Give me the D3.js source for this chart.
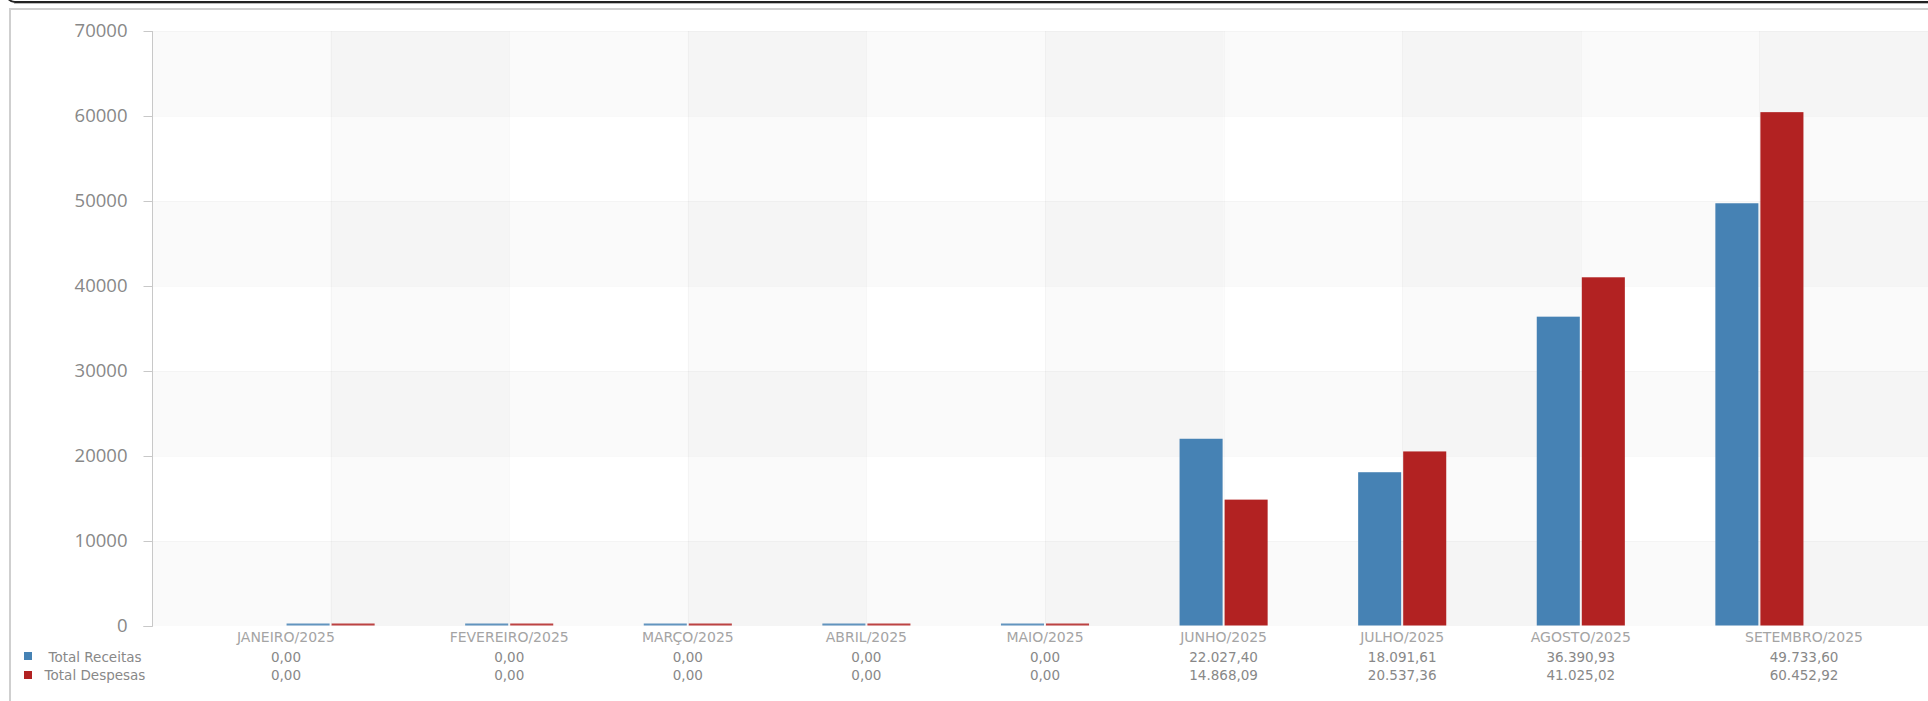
<!DOCTYPE html>
<html>
<head>
<meta charset="utf-8">
<script src="https://cdn.jsdelivr.net/npm/d3@7"></script>
<style>
  html, body { margin: 0; padding: 0; background: #fff; overflow: hidden; }
  svg { display: block; }
</style>
</head>
<body>
<svg id="chart" width="1928" height="701"></svg>
<script>
// ---- data ----
const categories = ["JANEIRO/2025","FEVEREIRO/2025","MARÇO/2025","ABRIL/2025","MAIO/2025","JUNHO/2025","JULHO/2025","AGOSTO/2025","SETEMBRO/2025"];
const receitas = [0, 0, 0, 0, 0, 22027.40, 18091.61, 36390.93, 49733.60];
const despesas = [0, 0, 0, 0, 0, 14868.09, 20537.36, 41025.02, 60452.92];
const seriesNames = ["Total Receitas", "Total Despesas"];
const seriesColors = ["#4682b4", "#b22222"];
const yTicks = [0, 10000, 20000, 30000, 40000, 50000, 60000, 70000];

// ---- layout ----
const svg = d3.select("#chart");
const plotLeft = 152, plotRight = 1938, plotTop = 31, plotBottom = 626;
const n = categories.length;

const x = d3.scaleLinear().domain([0, n + 1]).range([plotLeft, plotRight]);
const y = d3.scaleLinear().domain([0, 70000]).range([plotBottom, plotTop]);

const br = d3.formatLocale({decimal: ",", thousands: ".", grouping: [3], currency: ["R$", ""]});
const fmt = br.format(",.2f");

// outer frame pieces
svg.append("rect").attr("x", 6).attr("y", -60).attr("width", 2000).attr("height", 62)
  .attr("rx", 9).attr("fill", "none").attr("stroke", "#222").attr("stroke-width", 2);
svg.append("line").attr("x1", 14).attr("x2", 1928).attr("y1", 3.5).attr("y2", 3.5)
  .attr("stroke", "#bbb").attr("stroke-width", 1);
svg.append("rect").attr("x", 10).attr("y", 9).attr("width", 2000).attr("height", 800)
  .attr("fill", "#fff").attr("stroke", "#cfcfcf").attr("stroke-width", 2);

// background bands
const plot = svg.append("g");
const rowBands = d3.range(0, 7).filter(i => i % 2 === 0);
plot.selectAll("rect.row").data(rowBands).join("rect")
  .attr("x", plotLeft).attr("width", plotRight - plotLeft)
  .attr("y", d => y((d + 1) * 10000)).attr("height", d => y(d * 10000) - y((d + 1) * 10000))
  .attr("fill", "#000").attr("fill-opacity", 0.021);
const colBands = d3.range(0, n + 1).filter(i => i % 2 === 1);
plot.selectAll("rect.col").data(colBands).join("rect")
  .attr("x", d => x(d)).attr("width", d => x(d + 1) - x(d))
  .attr("y", plotTop).attr("height", plotBottom - plotTop)
  .attr("fill", "#000").attr("fill-opacity", 0.02);

// faint grid
plot.selectAll("line.hg").data(yTicks.slice(1)).join("line")
  .attr("x1", plotLeft).attr("x2", plotRight)
  .attr("y1", d => Math.round(y(d)) + 0.5).attr("y2", d => Math.round(y(d)) + 0.5)
  .attr("stroke", "#000").attr("stroke-opacity", 0.022);
plot.selectAll("line.vg").data(d3.range(1, n + 1)).join("line")
  .attr("x1", d => Math.round(x(d)) + 0.5).attr("x2", d => Math.round(x(d)) + 0.5)
  .attr("y1", plotTop).attr("y2", plotBottom)
  .attr("stroke", "#000").attr("stroke-opacity", 0.022);

// y axis
const yAxis = d3.axisLeft(y).tickValues(yTicks).tickSize(9).tickPadding(16).tickFormat(d3.format("d"));
const ax = svg.append("g").attr("transform", `translate(${plotLeft + 0.5},0)`).call(yAxis);
ax.select(".domain").attr("stroke", "#c8c8c8").attr("d", `M-9,${plotBottom + 0.5}H0V${plotTop}`);
ax.selectAll(".tick line").attr("stroke", "#c8c8c8");
ax.selectAll(".tick text").attr("fill", "#888").attr("font-family", "'Open Sans', sans-serif")
  .attr("font-size", 18.5);

// bars
const barW = x(0.241) - x(0);
const gap = 1;
const seriesData = [receitas, despesas];
seriesData.forEach((vals, s) => {
  svg.append("g").selectAll("rect").data(vals).join("rect")
    .attr("x", (d, i) => s === 0 ? x(i + 1) - gap - barW : x(i + 1) + gap)
    .attr("width", barW)
    .attr("y", d => d > 0 ? y(d) : plotBottom - 2.5)
    .attr("height", d => d > 0 ? plotBottom - y(d) - 0.5 : 2)
    .attr("fill", seriesColors[s])
    .attr("fill-opacity", d => d > 0 ? 1 : 0.85);
});

// data table (labels + values)
const cellCenter = i => {
  const l = i === 0 ? x(0) : x(i + 0.5);
  const r = i === n - 1 ? x(n + 1) : x(i + 1.5);
  return (l + r) / 2;
};
const tbl = svg.append("g").attr("font-family", "'DejaVu Sans', Verdana, sans-serif")
  .attr("text-anchor", "middle");
tbl.selectAll("text.cat").data(categories).join("text")
  .attr("x", (d, i) => cellCenter(i)).attr("y", 642).attr("font-size", 14)
  .attr("fill", "#a4a4a4").text(d => d);
seriesData.forEach((vals, s) => {
  tbl.selectAll("text.v" + s).data(vals).join("text")
    .attr("x", (d, i) => cellCenter(i)).attr("y", 661.5 + s * 18.5).attr("font-size", 13.5)
    .attr("fill", "#888").text(d => fmt(d));
});

// legend
const leg = svg.append("g");
seriesNames.forEach((name, s) => {
  leg.append("rect").attr("x", 24).attr("y", 652 + s * 19).attr("width", 8).attr("height", 8).attr("fill", seriesColors[s]);
  leg.append("text").attr("x", 95).attr("y", 661.5 + s * 18.5).attr("text-anchor", "middle")
    .attr("font-family", "'DejaVu Sans', Verdana, sans-serif").attr("font-size", 13.5)
    .attr("fill", "#888").text(name);
});
</script>
</body>
</html>
